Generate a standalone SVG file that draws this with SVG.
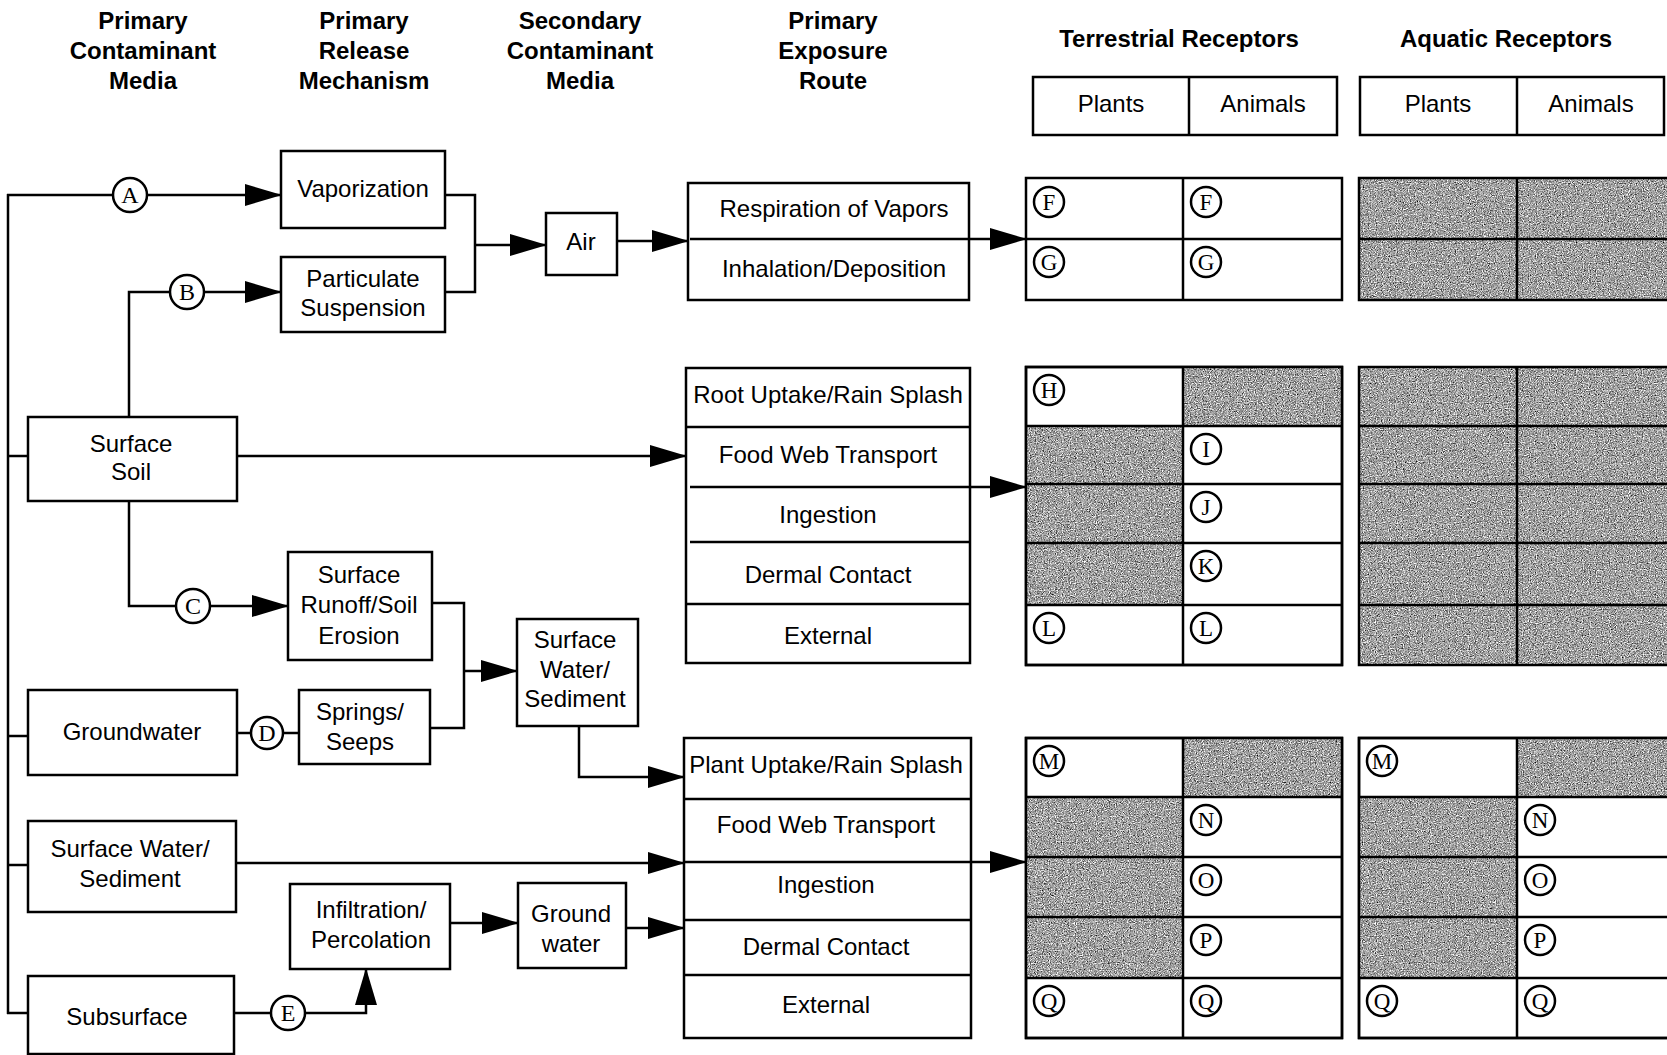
<svg xmlns="http://www.w3.org/2000/svg" width="1667" height="1055" viewBox="0 0 1667 1055">
<style>
.box{fill:#fff;stroke:#000;stroke-width:2.5}
.ln{fill:none;stroke:#000;stroke-width:2.5}
.ar{fill:none;stroke:#000;stroke-width:2.5;marker-end:url(#ah)}
.t{font-family:"Liberation Sans",Arial,sans-serif;font-size:24px;text-anchor:middle;fill:#000}
.h{font-weight:bold}
.c{fill:#fff;stroke:#000;stroke-width:2.5}
.l{font-family:"Liberation Serif","Times New Roman",serif;font-size:23px;text-anchor:middle;fill:#000}
.lb{font-size:24px}
.g{fill:#a4a4a4;filter:url(#stip)}
</style>
<defs>
<marker id="ah" markerUnits="userSpaceOnUse" markerWidth="37" markerHeight="22" refX="36" refY="11" orient="auto">
<path d="M0,0 L37,11 L0,22 z" fill="#000"/>
</marker>
<filter id="stip" x="0" y="0" width="1" height="1" color-interpolation-filters="sRGB">
<feTurbulence type="fractalNoise" baseFrequency="0.85" numOctaves="2" seed="7" result="n"/>
<feColorMatrix in="n" type="matrix" values="0.33 0.33 0.33 0 0  0.33 0.33 0.33 0 0  0.33 0.33 0.33 0 0  0 0 0 0 1" result="gr"/>
<feComponentTransfer in="gr" result="ct">
<feFuncR type="linear" slope="2.6" intercept="-0.66"/>
<feFuncG type="linear" slope="2.6" intercept="-0.66"/>
<feFuncB type="linear" slope="2.6" intercept="-0.66"/>
</feComponentTransfer>
<feComposite in="ct" in2="SourceGraphic" operator="in"/>
</filter>
</defs>
<rect width="1667" height="1055" fill="#fff"/>

<g id="headers">
<text class="t h" x="143" y="29">Primary</text>
<text class="t h" x="143" y="59">Contaminant</text>
<text class="t h" x="143" y="89">Media</text>
<text class="t h" x="364" y="29">Primary</text>
<text class="t h" x="364" y="59">Release</text>
<text class="t h" x="364" y="89">Mechanism</text>
<text class="t h" x="580" y="29">Secondary</text>
<text class="t h" x="580" y="59">Contaminant</text>
<text class="t h" x="580" y="89">Media</text>
<text class="t h" x="833" y="29">Primary</text>
<text class="t h" x="833" y="59">Exposure</text>
<text class="t h" x="833" y="89">Route</text>
<text class="t h" x="1179" y="47">Terrestrial Receptors</text>
<text class="t h" x="1506" y="47">Aquatic Receptors</text>
</g>

<g id="terr-header">
<rect class="box" x="1033" y="77" width="304" height="58"/>
<line class="ln" x1="1189" y1="77" x2="1189" y2="135"/>
<text class="t" x="1111" y="112">Plants</text>
<text class="t" x="1263" y="112">Animals</text>
</g>
<g id="aq-header">
<rect class="box" x="1360" y="77" width="304" height="58"/>
<line class="ln" x1="1517" y1="77" x2="1517" y2="135"/>
<text class="t" x="1438" y="112">Plants</text>
<text class="t" x="1591" y="112">Animals</text>
</g>

<g id="connectors">
<line class="ln" x1="8" y1="194" x2="8" y2="1014"/>
<line class="ln" x1="7" y1="195" x2="113" y2="195"/>
<line class="ar" x1="147" y1="195" x2="281" y2="195"/>
<polyline class="ln" points="129,417 129,292 170,292"/>
<line class="ar" x1="204" y1="292" x2="281" y2="292"/>
<polyline class="ln" points="445,195 475,195 475,292 445,292"/>
<line class="ar" x1="475" y1="245" x2="546" y2="245"/>
<line class="ar" x1="617" y1="241" x2="688" y2="241"/>
<line class="ar" x1="969" y1="239" x2="1026" y2="239"/>
<line class="ln" x1="8" y1="456" x2="28" y2="456"/>
<line class="ar" x1="237" y1="456" x2="686" y2="456"/>
<line class="ar" x1="970" y1="487" x2="1026" y2="487"/>
<polyline class="ln" points="129,501 129,606 176,606"/>
<line class="ar" x1="210" y1="606" x2="288" y2="606"/>
<polyline class="ln" points="432,603 464,603 464,728 430,728"/>
<line class="ar" x1="464" y1="671" x2="517" y2="671"/>
<line class="ln" x1="8" y1="736" x2="28" y2="736"/>
<line class="ln" x1="237" y1="733" x2="251" y2="733"/>
<line class="ln" x1="283" y1="733" x2="299" y2="733"/>
<polyline class="ar" points="579,726 579,777 684,777"/>
<line class="ln" x1="8" y1="865" x2="28" y2="865"/>
<line class="ar" x1="236" y1="863" x2="684" y2="863"/>
<line class="ar" x1="450" y1="923" x2="518" y2="923"/>
<line class="ar" x1="626" y1="928" x2="684" y2="928"/>
<line class="ar" x1="971" y1="862" x2="1026" y2="862"/>
<line class="ln" x1="7" y1="1013" x2="28" y2="1013"/>
<line class="ln" x1="234" y1="1013" x2="271" y2="1013"/>
<polyline class="ar" points="305,1013 366,1013 366,969"/>
</g>

<g id="circle-A"><circle class="c" cx="130" cy="195" r="17"/><text class="l lb" x="130" y="203">A</text></g>
<g id="circle-B"><circle class="c" cx="187" cy="292" r="17"/><text class="l lb" x="187" y="300">B</text></g>
<g id="circle-C"><circle class="c" cx="193" cy="606" r="17"/><text class="l lb" x="193" y="614">C</text></g>
<g id="circle-D"><circle class="c" cx="267" cy="733" r="16"/><text class="l lb" x="267" y="741">D</text></g>
<g id="circle-E"><circle class="c" cx="288" cy="1013" r="17"/><text class="l lb" x="288" y="1021">E</text></g>

<g id="vaporization">
<rect class="box" x="281" y="151" width="164" height="77"/>
<text class="t" x="363" y="197">Vaporization</text>
</g>
<g id="particulate">
<rect class="box" x="281" y="257" width="164" height="75"/>
<text class="t" x="363" y="287">Particulate</text>
<text class="t" x="363" y="316">Suspension</text>
</g>
<g id="air">
<rect class="box" x="546" y="213" width="71" height="62"/>
<text class="t" x="581" y="250">Air</text>
</g>
<g id="air-routes">
<rect class="box" x="688" y="183" width="281" height="117"/>
<line class="ln" x1="690" y1="239" x2="969" y2="239"/>
<text class="t" x="834" y="217">Respiration of Vapors</text>
<text class="t" x="834" y="277">Inhalation/Deposition</text>
</g>
<g id="surface-soil">
<rect class="box" x="28" y="417" width="209" height="84"/>
<text class="t" x="131" y="452">Surface</text>
<text class="t" x="131" y="480">Soil</text>
</g>
<g id="runoff">
<rect class="box" x="288" y="552" width="144" height="108"/>
<text class="t" x="359" y="583">Surface</text>
<text class="t" x="359" y="613">Runoff/Soil</text>
<text class="t" x="359" y="644">Erosion</text>
</g>
<g id="groundwater">
<rect class="box" x="28" y="690" width="209" height="85"/>
<text class="t" x="132" y="740">Groundwater</text>
</g>
<g id="springs">
<rect class="box" x="299" y="690" width="131" height="74"/>
<text class="t" x="360" y="720">Springs/</text>
<text class="t" x="360" y="750">Seeps</text>
</g>
<g id="sec-surface-water">
<rect class="box" x="517" y="619" width="121" height="107"/>
<text class="t" x="575" y="648">Surface</text>
<text class="t" x="575" y="678">Water/</text>
<text class="t" x="575" y="707">Sediment</text>
</g>
<g id="soil-routes">
<rect class="box" x="686" y="368" width="284" height="295"/>
<line class="ln" x1="686" y1="427" x2="970" y2="427"/>
<line class="ln" x1="690" y1="487" x2="970" y2="487"/>
<line class="ln" x1="690" y1="542" x2="970" y2="542"/>
<line class="ln" x1="686" y1="604" x2="970" y2="604"/>
<text class="t" x="828" y="403">Root Uptake/Rain Splash</text>
<text class="t" x="828" y="463">Food Web Transport</text>
<text class="t" x="828" y="523">Ingestion</text>
<text class="t" x="828" y="583">Dermal Contact</text>
<text class="t" x="828" y="644">External</text>
</g>
<g id="water-routes">
<rect class="box" x="684" y="738" width="287" height="300"/>
<line class="ln" x1="684" y1="799" x2="971" y2="799"/>
<line class="ln" x1="684" y1="862" x2="971" y2="862"/>
<line class="ln" x1="684" y1="920" x2="971" y2="920"/>
<line class="ln" x1="684" y1="975" x2="971" y2="975"/>
<text class="t" x="826" y="773">Plant Uptake/Rain Splash</text>
<text class="t" x="826" y="833">Food Web Transport</text>
<text class="t" x="826" y="893">Ingestion</text>
<text class="t" x="826" y="955">Dermal Contact</text>
<text class="t" x="826" y="1013">External</text>
</g>
<g id="surface-water-sediment">
<rect class="box" x="28" y="821" width="208" height="91"/>
<text class="t" x="130" y="857">Surface Water/</text>
<text class="t" x="130" y="887">Sediment</text>
</g>
<g id="infiltration">
<rect class="box" x="290" y="884" width="160" height="85"/>
<text class="t" x="371" y="918">Infiltration/</text>
<text class="t" x="371" y="948">Percolation</text>
</g>
<g id="ground-water">
<rect class="box" x="518" y="883" width="108" height="85"/>
<text class="t" x="571" y="922">Ground</text>
<text class="t" x="571" y="952">water</text>
</g>
<g id="subsurface">
<rect class="box" x="28" y="976" width="206" height="78"/>
<text class="t" x="127" y="1025">Subsurface</text>
</g>

<g id="terr-air">
<rect class="box" x="1026" y="178" width="316" height="122"/>
<line class="ln" x1="1183" y1="178" x2="1183" y2="300"/>
<line class="ln" x1="1026" y1="239" x2="1342" y2="239"/>
<circle class="c" cx="1049" cy="202" r="15"/><text class="l" x="1049" y="210">F</text>
<circle class="c" cx="1206" cy="202" r="15"/><text class="l" x="1206" y="210">F</text>
<circle class="c" cx="1049" cy="262" r="15"/><text class="l" x="1049" y="270">G</text>
<circle class="c" cx="1206" cy="262" r="15"/><text class="l" x="1206" y="270">G</text>
</g>
<g id="aq-air">
<rect class="g" x="1359" y="178" width="321" height="122"/>
<rect class="ln" x="1359" y="178" width="321" height="122"/>
<line class="ln" x1="1517" y1="178" x2="1517" y2="300"/>
<line class="ln" x1="1359" y1="239" x2="1680" y2="239"/>
</g>

<g id="terr-soil">
<rect class="box" x="1026" y="367" width="316" height="298"/>
<rect class="g" x="1183" y="367" width="159" height="59"/>
<rect class="g" x="1026" y="426" width="157" height="179"/>
<rect class="ln" x="1026" y="367" width="316" height="298"/>
<line class="ln" x1="1183" y1="367" x2="1183" y2="665"/>
<line class="ln" x1="1026" y1="426" x2="1342" y2="426"/>
<line class="ln" x1="1026" y1="484" x2="1342" y2="484"/>
<line class="ln" x1="1026" y1="543" x2="1342" y2="543"/>
<line class="ln" x1="1026" y1="605" x2="1342" y2="605"/>
<circle class="c" cx="1049" cy="390" r="15"/><text class="l" x="1049" y="398">H</text>
<circle class="c" cx="1206" cy="449" r="15"/><text class="l" x="1206" y="457">I</text>
<circle class="c" cx="1206" cy="507" r="15"/><text class="l" x="1206" y="515">J</text>
<circle class="c" cx="1206" cy="566" r="15"/><text class="l" x="1206" y="574">K</text>
<circle class="c" cx="1049" cy="628" r="15"/><text class="l" x="1049" y="636">L</text>
<circle class="c" cx="1206" cy="628" r="15"/><text class="l" x="1206" y="636">L</text>
</g>
<g id="aq-soil">
<rect class="g" x="1359" y="367" width="321" height="298"/>
<rect class="ln" x="1359" y="367" width="321" height="298"/>
<line class="ln" x1="1517" y1="367" x2="1517" y2="665"/>
<line class="ln" x1="1359" y1="426" x2="1680" y2="426"/>
<line class="ln" x1="1359" y1="484" x2="1680" y2="484"/>
<line class="ln" x1="1359" y1="543" x2="1680" y2="543"/>
<line class="ln" x1="1359" y1="605" x2="1680" y2="605"/>
</g>

<g id="terr-water">
<rect class="box" x="1026" y="738" width="316" height="300"/>
<rect class="g" x="1183" y="738" width="159" height="59"/>
<rect class="g" x="1026" y="797" width="157" height="181"/>
<rect class="ln" x="1026" y="738" width="316" height="300"/>
<line class="ln" x1="1183" y1="738" x2="1183" y2="1038"/>
<line class="ln" x1="1026" y1="797" x2="1342" y2="797"/>
<line class="ln" x1="1026" y1="857" x2="1342" y2="857"/>
<line class="ln" x1="1026" y1="917" x2="1342" y2="917"/>
<line class="ln" x1="1026" y1="978" x2="1342" y2="978"/>
<circle class="c" cx="1049" cy="761" r="15"/><text class="l" x="1049" y="769">M</text>
<circle class="c" cx="1206" cy="820" r="15"/><text class="l" x="1206" y="828">N</text>
<circle class="c" cx="1206" cy="880" r="15"/><text class="l" x="1206" y="888">O</text>
<circle class="c" cx="1206" cy="940" r="15"/><text class="l" x="1206" y="948">P</text>
<circle class="c" cx="1049" cy="1001" r="15"/><text class="l" x="1049" y="1009">Q</text>
<circle class="c" cx="1206" cy="1001" r="15"/><text class="l" x="1206" y="1009">Q</text>
</g>
<g id="aq-water">
<rect class="box" x="1359" y="738" width="321" height="300"/>
<rect class="g" x="1517" y="738" width="163" height="59"/>
<rect class="g" x="1359" y="797" width="158" height="181"/>
<rect class="ln" x="1359" y="738" width="321" height="300"/>
<line class="ln" x1="1517" y1="738" x2="1517" y2="1038"/>
<line class="ln" x1="1359" y1="797" x2="1680" y2="797"/>
<line class="ln" x1="1359" y1="857" x2="1680" y2="857"/>
<line class="ln" x1="1359" y1="917" x2="1680" y2="917"/>
<line class="ln" x1="1359" y1="978" x2="1680" y2="978"/>
<circle class="c" cx="1382" cy="761" r="15"/><text class="l" x="1382" y="769">M</text>
<circle class="c" cx="1540" cy="820" r="15"/><text class="l" x="1540" y="828">N</text>
<circle class="c" cx="1540" cy="880" r="15"/><text class="l" x="1540" y="888">O</text>
<circle class="c" cx="1540" cy="940" r="15"/><text class="l" x="1540" y="948">P</text>
<circle class="c" cx="1382" cy="1001" r="15"/><text class="l" x="1382" y="1009">Q</text>
<circle class="c" cx="1540" cy="1001" r="15"/><text class="l" x="1540" y="1009">Q</text>
</g>
</svg>
